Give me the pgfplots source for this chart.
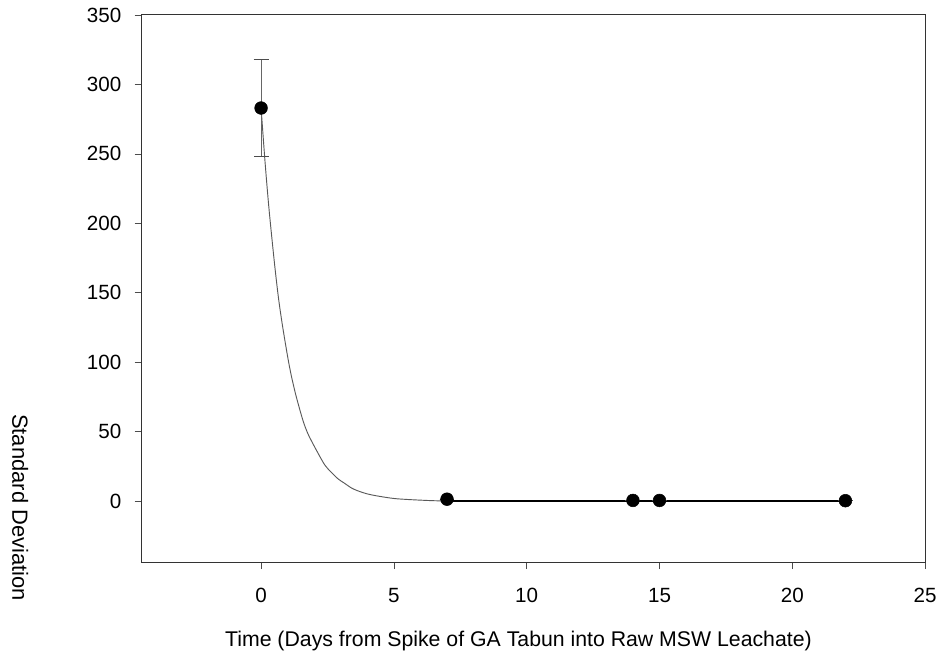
\documentclass[border=0pt]{standalone}
\usepackage{fontspec}
\setmainfont{Liberation Sans}
\usepackage{pgfplots}
\pgfplotsset{compat=1.18}
\usetikzlibrary{calc}

\begin{document}
\begin{tikzpicture}
\begin{axis}[
    scale only axis,
    width=589.5pt, height=411.75pt,
    xmin=-4.5, xmax=25,
    ymin=-44, ymax=350,
    xtick={0,5,...,25},
    ytick={0,50,...,350},
    tick align=outside,
    xtick pos=bottom, ytick pos=left,
    major tick length=5.25pt,
    every tick/.style={black!70},
    axis line style={black!80, line width=0.8pt},
    /pgf/number format/assume math mode=true,
    tick label style={font=\fontsize{15.5}{18}\selectfont},
    xticklabel style={yshift=-11pt},
    yticklabel style={xshift=-6.5pt},
    xlabel={Time (Days from Spike of GA Tabun into Raw MSW Leachate)},
    ylabel={Standard Deviation},
    every axis x label/.style={at={(rel axis cs:0.481,-0.144)}, anchor=center,
        font=\fontsize{16}{18}\selectfont},
    every axis y label/.style={at={(rel axis cs:-0.155,0.1)}, anchor=center, rotate=-90,
        font=\fontsize{16.5}{18}\selectfont},
    clip=false,
]
% fitted decay curve
\addplot[black!65, line width=0.7pt, smooth] coordinates {
    (0,283) (0.15,244) (0.3,210) (0.5,172) (0.65,147) (0.8,127) (1.0,104)
    (1.13,91) (1.3,77) (1.5,63) (1.63,55) (1.8,47) (2.13,35) (2.4,26)
    (2.63,21) (2.9,16) (3.13,13) (3.4,9.5) (3.63,7.5) (4.0,5.2) (4.44,3.5)
    (5.0,1.9) (5.5,1.2) (6.0,0.7) (6.5,0.3) (7,0.1)
};
\addplot[black, line width=0.8pt] coordinates {(7,0.1) (22,0.1)};
% measured values
\addplot[only marks, mark=*, mark size=4.8pt, black,
    error bars/.cd, y dir=both, y explicit,
    error bar style={black!60, line width=0.8pt},
    error mark options={rotate=90, mark size=5.6pt, black!70, line width=0.8pt}]
coordinates {
    (0,283) +- (0,35)
    (7,1.4) +- (0,0)
    (14,0.5) +- (0,0)
    (15,0.5) +- (0,0)
    (22,0.3) +- (0,0)
};
\end{axis}
\path ($(current axis.south west)+(-106.5pt,-72pt)$) ($(current axis.north east)+(9.75pt,11.25pt)$);
\end{tikzpicture}
\end{document}
